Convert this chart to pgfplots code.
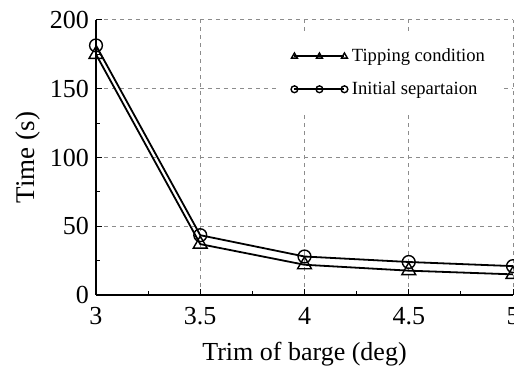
\documentclass[border=0pt]{standalone}
\usepackage{fontspec}
\setmainfont{Liberation Serif}
\usepackage{pgfplots}
\pgfplotsset{compat=1.18}
\begin{document}
\begin{tikzpicture}
\begin{axis}[
  at={(0,0)}, anchor=south west,
  scale only axis,
  width=208.5pt, height=137.5pt,
  xmin=3, xmax=5, ymin=0, ymax=200,
  xtick={3,3.5,4,4.5,5},
  ytick={0,50,100,150,200},
  minor x tick num=1, minor y tick num=1,
  axis x line*=bottom, axis y line*=left,
  axis line style={line width=0.6pt, -},
  tick align=inside,
  major tick length=3pt, minor tick length=2pt,
  tick style={black, line width=0.5pt},
  grid=major,
  major grid style={gray!90, dashed, line width=0.5pt, dash pattern=on 2pt off 2pt},
  /pgf/number format/assume math mode=true,
  tick label style={font=\fontsize{13}{15}\selectfont},
  xticklabel style={yshift=-2.5pt},
  xlabel={Trim of barge (deg)},
  ylabel={Time (s)},
  label style={font=\fontsize{13}{15}\selectfont},
  ylabel style={yshift=-2pt, font=\fontsize{13.5}{15}\selectfont},
  xlabel style={yshift=-2pt},
  legend style={draw=none, fill=white, at={(0.438,0.949)}, anchor=north west,
    font=\fontsize{9.3}{11}\selectfont, row sep=4.5pt, inner xsep=6pt, inner ysep=5pt,
    /tikz/every even column/.append style={column sep=4pt}},
  legend cell align=left,
  legend image code/.code={%
    \draw[#1, mark size=1.7pt, mark repeat=1] plot coordinates {(0pt,0pt) (12.5pt,0pt) (25pt,0pt)};},
]
\addplot[black, line width=0.9pt, mark=triangle, mark size=4pt, mark options={solid, line width=0.7pt}]
  coordinates {(3,175) (3.5,37) (4,22) (4.5,17.7) (5,15)};
\addlegendentry{Tipping condition}
\addplot[black, line width=0.9pt, mark=o, mark size=3.2pt, mark options={solid, line width=0.7pt}]
  coordinates {(3,181.5) (3.5,43.5) (4,28) (4.5,24) (5,21)};
\addlegendentry{Initial separtaion}
\end{axis}
\pgfresetboundingbox
\path[use as bounding box] (-48pt,-37pt) rectangle (209pt,147.5pt);
\end{tikzpicture}
\end{document}
